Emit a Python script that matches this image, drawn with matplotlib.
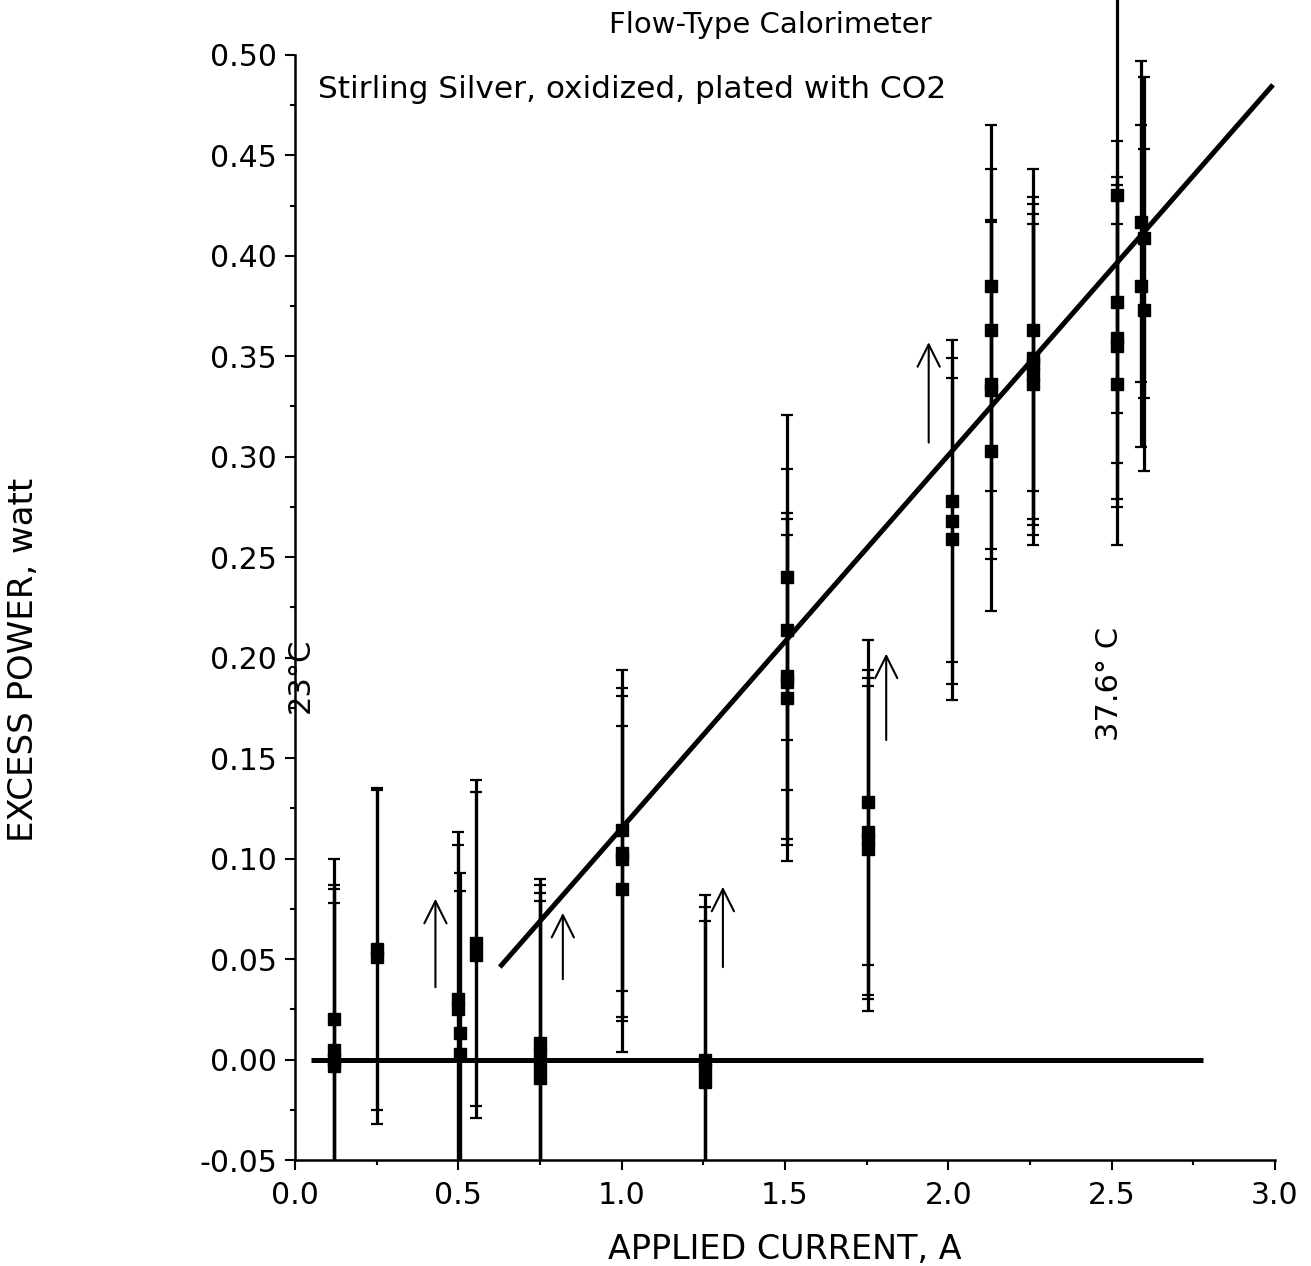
import matplotlib
matplotlib.use("Agg")
import matplotlib.pyplot as plt
from matplotlib.ticker import MultipleLocator, FormatStrFormatter
import numpy as np

# dados
corrente = [0.12, 0.12, 0.12, 0.12,
            0.25, 0.25,
            0.50, 0.50, 0.505, 0.505,
            0.555, 0.555,
            0.75, 0.75, 0.75, 0.75,
            1.0, 1.0, 1.0, 1.0,
            1.255, 1.255, 1.255,
            1.505, 1.505, 1.505, 1.505, 1.505,
            1.755, 1.755, 1.755, 1.755,
            2.01, 2.01, 2.01,
            2.13, 2.13, 2.13, 2.13, 2.13,
            2.26, 2.26, 2.26, 2.26, 2.26,
            2.59, 2.59, 2.60, 2.60]
potencia = [0.020, 0.005, 0.000, -0.003,
            0.055, 0.051,
            0.030, 0.025, 0.013, 0.003,
            0.058, 0.052,
            0.008, 0.003, -0.003, -0.009,
            0.114, 0.103, 0.100, 0.085,
            0.000, -0.005, -0.011,
            0.240, 0.214, 0.191, 0.188, 0.180,
            0.128, 0.113, 0.110, 0.105,
            0.278, 0.268, 0.259,
            0.385, 0.363, 0.336, 0.333, 0.303,
            0.363, 0.349, 0.346, 0.341, 0.336,
            0.417, 0.385, 0.409, 0.373]
erro = [0.080, 0.082, 0.085, 0.081,
        0.080, 0.083,
        0.083, 0.082, 0.080, 0.081,
        0.081, 0.081,
        0.082, 0.084, 0.086, 0.088,
        0.080, 0.082, 0.081, 0.081,
        0.082, 0.081, 0.080,
        0.081, 0.080, 0.081, 0.081, 0.081,
        0.081, 0.081, 0.080, 0.081,
        0.080, 0.081, 0.080,
        0.080, 0.080, 0.082, 0.084, 0.080,
        0.080, 0.080, 0.080, 0.080, 0.080,
        0.080, 0.080, 0.080, 0.080]

# ponto 2.51 A (a barra sai do grafico)
corrente_251 = [2.515, 2.515, 2.515, 2.515, 2.515]
potencia_251 = [0.430, 0.377, 0.359, 0.355, 0.336]
erro_251 = [0.108, 0.080, 0.080, 0.080, 0.080]

# setas
seta_x = [0.43, 0.82, 1.31, 1.81, 1.94]
seta_y0 = [0.036, 0.040, 0.046, 0.159, 0.307]
seta_y1 = [0.080, 0.073, 0.086, 0.202, 0.357]

# reta ajustada
reta_inclinacao = 0.1855
reta_intercepto = -0.0703
reta_x = [0.627, 2.994]
zero_x = [0.05, 2.78]

fig = plt.figure(figsize=(13.11, 12.66), dpi=100)
ax = fig.add_axes([0.225, 0.0837, 0.7475, 0.873])

estilo = dict(fmt="s", color="black", ms=8.5, elinewidth=2.3,
              capsize=4.5, capthick=1.6)
ax.errorbar(corrente, potencia, yerr=erro, **estilo)
c = ax.errorbar(corrente_251, potencia_251, yerr=erro_251, **estilo)
for col in c.lines[2]:
    col.set_clip_on(False)
for cap in c.lines[1]:
    cap.set_clip_on(False)

rx = np.array(reta_x)
ax.plot(rx, reta_inclinacao * rx + reta_intercepto, color="black", lw=3.6,
        solid_capstyle="butt")
ax.plot(zero_x, [0, 0], color="black", lw=3.6, solid_capstyle="butt")

for x, y0, y1 in zip(seta_x, seta_y0, seta_y1):
    ax.annotate("", xy=(x, y1), xytext=(x, y0),
                arrowprops=dict(arrowstyle="->,head_length=1.0,head_width=0.5",
                                lw=1.5, color="black", mutation_scale=16,
                                shrinkA=0, shrinkB=0))

ax.set_xlim(0, 3.0)
ax.set_ylim(-0.05, 0.50)
ax.xaxis.set_major_locator(MultipleLocator(0.5))
ax.xaxis.set_minor_locator(MultipleLocator(0.25))
ax.yaxis.set_major_locator(MultipleLocator(0.05))
ax.yaxis.set_minor_locator(MultipleLocator(0.025))
ax.xaxis.set_major_formatter(FormatStrFormatter("%.1f"))
ax.yaxis.set_major_formatter(FormatStrFormatter("%.2f"))
ax.tick_params(which="major", length=7, width=1.5, labelsize=21.5)
ax.tick_params(axis="y", which="major", pad=6)
ax.tick_params(axis="x", which="major", pad=8)
ax.tick_params(which="minor", length=3.5, width=1.5)

ax.spines["top"].set_visible(False)
ax.spines["right"].set_visible(False)
ax.spines["left"].set_linewidth(1.8)
ax.spines["bottom"].set_linewidth(1.8)

ax.set_xlabel("APPLIED CURRENT, A", fontsize=24, va="center")
ax.xaxis.set_label_coords(0.5, -0.081)
ax.set_ylabel("EXCESS POWER, watt", fontsize=24.5, va="center")
ax.yaxis.set_label_coords(-0.277, 0.4525)
ax.text(0.485, 1.027, "Flow-Type Calorimeter", fontsize=21,
        ha="center", va="center", transform=ax.transAxes)

ax.text(0.07, 0.4826, "Stirling Silver, oxidized, plated with CO2",
        fontsize=22.5, va="center", ha="left")
ax.text(0.015, 0.191, "23°C", rotation=90, fontsize=22, ha="center", va="center")
ax.text(2.495, 0.187, "37.6° C", rotation=90, fontsize=22, ha="center", va="center")

fig.savefig("out.png", dpi=100)
